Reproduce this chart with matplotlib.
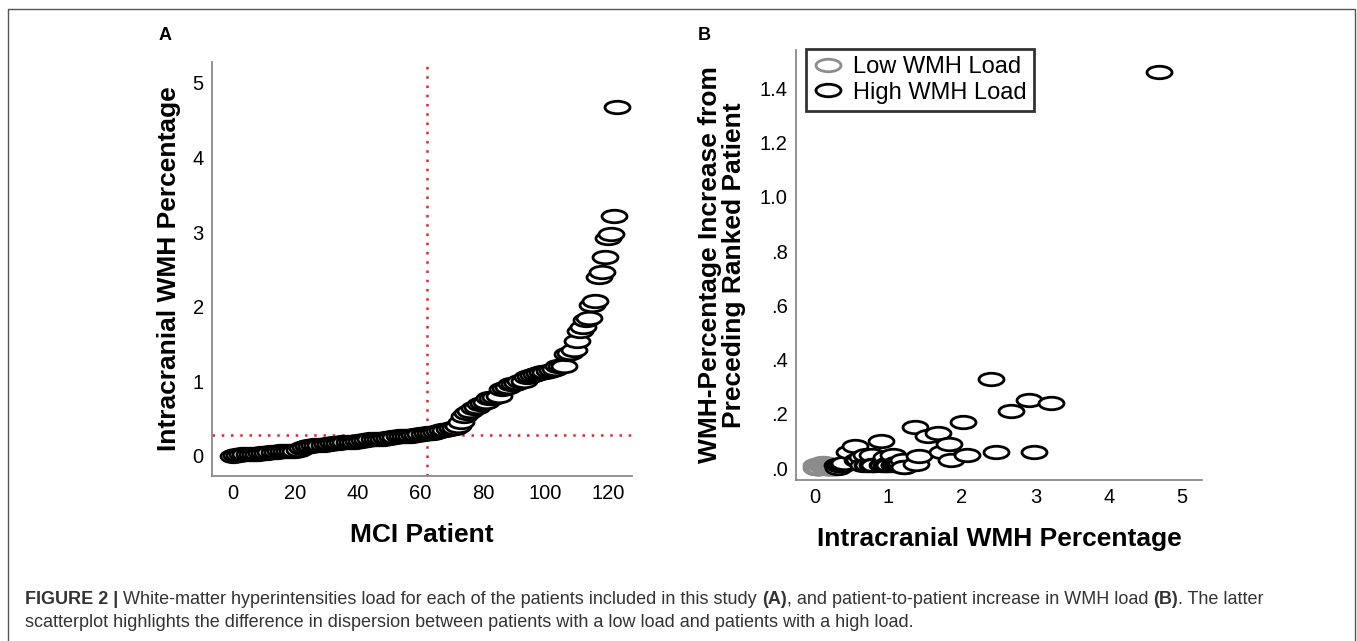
import numpy as np
import matplotlib
matplotlib.use('Agg')
import matplotlib.pyplot as plt
from matplotlib.path import Path
from matplotlib.transforms import Affine2D
from matplotlib.lines import Line2D

plt.rcParams['font.family'] = ['Liberation Sans', 'DejaVu Sans']

# intracranial WMH percentage per MCI patient, ranked
wmh_pct = [
    0.00, 0.01, 0.01, 0.02, 0.02, 0.02, 0.03, 0.03, 0.03, 0.04,
    0.04, 0.04, 0.05, 0.05, 0.05, 0.06, 0.06, 0.06, 0.07, 0.07,
    0.07, 0.08, 0.10, 0.12, 0.13, 0.13, 0.14, 0.14, 0.15, 0.15,
    0.16, 0.16, 0.17, 0.17, 0.17, 0.18, 0.18, 0.19, 0.19, 0.19,
    0.20, 0.20, 0.21, 0.21, 0.22, 0.22, 0.22, 0.23, 0.23, 0.24,
    0.24, 0.25, 0.25, 0.26, 0.26, 0.26, 0.27, 0.27, 0.28, 0.28,
    0.29, 0.29, 0.30, 0.31, 0.31, 0.32, 0.33, 0.34, 0.35, 0.36,
    0.37, 0.38, 0.40, 0.46, 0.54, 0.57, 0.60, 0.64, 0.65, 0.70,
    0.71, 0.72, 0.77, 0.78, 0.79, 0.80, 0.90, 0.91, 0.92, 0.96,
    0.97, 0.98, 1.00, 1.01, 1.06, 1.07, 1.08, 1.10, 1.11, 1.12,
    1.13, 1.14, 1.15, 1.17, 1.20, 1.205, 1.21, 1.36, 1.375, 1.42,
    1.54, 1.67, 1.73, 1.82, 1.85, 2.02, 2.07, 2.40, 2.46, 2.67,
    2.92, 2.98, 3.22, 4.68,
]
cutoff_patient = 62
cutoff_pct = 0.28

x_ticks_a = [0, 20, 40, 60, 80, 100, 120]
y_ticks_a = [0, 1, 2, 3, 4, 5]
x_ticks_b = [0, 1, 2, 3, 4, 5]
y_ticks_b = [0.0, 0.2, 0.4, 0.6, 0.8, 1.0, 1.2, 1.4]
y_labels_b = ['.0', '.2', '.4', '.6', '.8', '1.0', '1.2', '1.4']

caption_parts = [
    ('FIGURE 2 |', 'bold'),
    (' White-matter hyperintensities load for each of the patients included in this study ', 'normal'),
    ('(A)', 'bold'),
    (', and patient-to-patient increase in WMH load ', 'normal'),
    ('(B)', 'bold'),
    ('. The latter', 'normal'),
]
caption_line2 = 'scatterplot highlights the difference in dispersion between patients with a low load and patients with a high load.'

W, H = 1357, 641
wmh = np.array(wmh_pct)
patient = np.arange(len(wmh))
rise = np.diff(wmh)
prev_x = wmh[1:]
is_low = patient[1:] < cutoff_patient

ellipse = Affine2D().scale(1, 0.5).transform_path(Path.unit_circle())
ms = 18
mlw = 2.0
spine_col = '#8a8a8a'

fig = plt.figure(figsize=(W / 100, H / 100), dpi=100)


def px_axes(left, top, right, bottom):
    return fig.add_axes([left / W, 1 - bottom / H, (right - left) / W, (bottom - top) / H])


def style(ax):
    for s in ['top', 'right']:
        ax.spines[s].set_visible(False)
    for s in ['left', 'bottom']:
        ax.spines[s].set_color(spine_col)
        ax.spines[s].set_linewidth(1.3)
    ax.tick_params(length=0, labelsize=14.5, pad=6)


# ---- panel A
ax_a = px_axes(212, 62, 632, 476)
style(ax_a)
ax_a.scatter(patient, wmh, marker=ellipse, s=ms ** 2, facecolors='white',
             edgecolors='black', linewidths=mlw, zorder=3)
ax_a.axvline(cutoff_patient, color='#e8202a', lw=1.8, ls=(0, (1, 2.7)), zorder=2)
ax_a.axhline(cutoff_pct, color='#e8202a', lw=1.8, ls=(0, (1, 2.7)), zorder=2)
ax_a.set_xlim(-6.7, 127.7)
ax_a.set_ylim(-0.27, 5.28)
ax_a.set_xticks(x_ticks_a)
ax_a.set_yticks(y_ticks_a)
ax_a.set_xlabel('MCI Patient', fontsize=19, weight='bold', labelpad=14)
ax_a.set_ylabel('Intracranial WMH Percentage', fontsize=19, weight='bold', labelpad=8)

# ---- panel B
ax_b = px_axes(796, 50, 1202, 480)
style(ax_b)
ax_b.scatter(prev_x[is_low], rise[is_low], marker=ellipse, s=ms ** 2, facecolors='white',
             edgecolors='#8c8c8c', linewidths=mlw, zorder=3)
ax_b.scatter(prev_x[~is_low], rise[~is_low], marker=ellipse, s=ms ** 2, facecolors='white',
             edgecolors='black', linewidths=mlw, zorder=4)
ax_b.set_xlim(-0.26, 5.27)
ax_b.set_ylim(-0.044, 1.542)
ax_b.set_xticks(x_ticks_b)
ax_b.set_yticks(y_ticks_b)
ax_b.set_yticklabels(y_labels_b)
ax_b.set_xlabel('Intracranial WMH Percentage', fontsize=19, weight='bold', labelpad=14)
ax_b.set_ylabel('WMH-Percentage Increase from\nPreceding Ranked Patient', fontsize=19,
                weight='bold', labelpad=10, linespacing=1.0)

handles = [
    Line2D([], [], ls='none', marker=ellipse, ms=ms, mfc='white', mec='#8c8c8c', mew=2),
    Line2D([], [], ls='none', marker=ellipse, ms=ms, mfc='white', mec='black', mew=2),
]
leg = ax_b.legend(handles, ['Low WMH Load', 'High WMH Load'], loc='upper left',
                  bbox_to_anchor=(806 / W, 1 - 49 / H), bbox_transform=fig.transFigure,
                  fontsize=17, frameon=True, fancybox=False, borderpad=0.3,
                  handlelength=1.3, handletextpad=0.4, labelspacing=0.15, borderaxespad=0)
leg.get_frame().set_edgecolor('black')
leg.get_frame().set_linewidth(2)

# panel letters
fig.text(165 / W, 1 - 36 / H, 'A', weight='bold', fontsize=13, ha='center', va='center')
fig.text(704 / W, 1 - 35 / H, 'B', weight='bold', fontsize=13, ha='center', va='center')

# outer frame
fig.add_artist(Line2D([8 / W, 8 / W, 1355 / W, 1355 / W], [0, 1 - 9 / H, 1 - 9 / H, 0],
                      transform=fig.transFigure, color='#555555', lw=1))

# caption
cap_kw = dict(fontsize=13, color='#333333', family=['Liberation Sans'])
t = fig.text(25 / W, 1 - 604 / H, caption_parts[0][0], weight=caption_parts[0][1],
             va='baseline', **cap_kw)
for s, w in caption_parts[1:]:
    t = ax_a.annotate(s, xy=(1, 0), xycoords=t, va='bottom', ha='left', weight=w,
                      annotation_clip=False, **cap_kw)
fig.text(25 / W, 1 - 627 / H, caption_line2, va='baseline', **cap_kw)

fig.savefig('out.png', dpi=100)
